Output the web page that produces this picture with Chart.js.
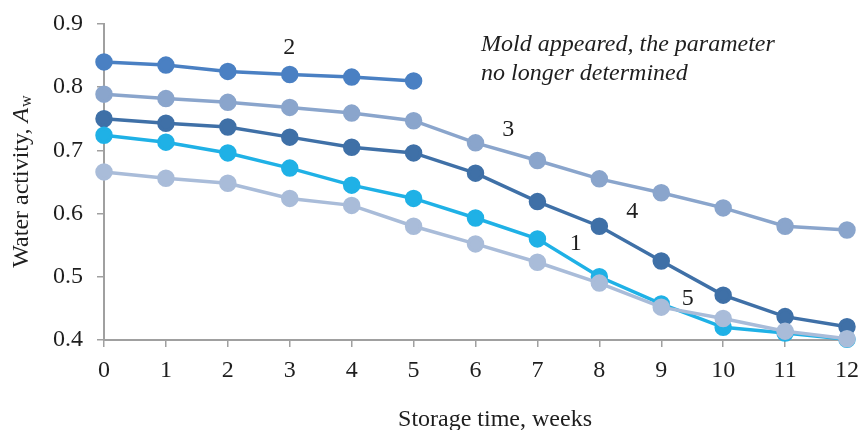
<!DOCTYPE html>
<html>
<head>
<meta charset="utf-8">
<script src="https://cdn.jsdelivr.net/npm/chart.js@4"></script>
<style>
  html, body { margin: 0; padding: 0; background: #fff; }
  #wrap { width: 861px; height: 430px; }
</style>
</head>
<body>
<div id="wrap"><canvas id="waterChart"></canvas></div>
<script>
// Storage weeks
const weeks = [0, 1, 2, 3, 4, 5, 6, 7, 8, 9, 10, 11, 12];

// Water activity per sample
const sample1 = [0.724, 0.713, 0.696, 0.672, 0.645, 0.624, 0.593, 0.560, 0.500, 0.457, 0.420, 0.411, 0.401];
const sample2 = [0.840, 0.835, 0.825, 0.820, 0.816, 0.810, null, null, null, null, null, null, null];
const sample3 = [0.789, 0.782, 0.776, 0.768, 0.759, 0.747, 0.712, 0.684, 0.655, 0.633, 0.609, 0.580, 0.574];
const sample4 = [0.750, 0.743, 0.737, 0.721, 0.705, 0.696, 0.664, 0.619, 0.580, 0.525, 0.471, 0.437, 0.421];
const sample5 = [0.666, 0.656, 0.648, 0.624, 0.613, 0.580, 0.552, 0.523, 0.490, 0.452, 0.434, 0.414, 0.402];

// Curve labels: [text, week, value]
const curveLabels = [
  ['2', 2.99, 0.862],
  ['3', 6.53, 0.732],
  ['4', 8.53, 0.603],
  ['1', 7.62, 0.553],
  ['5', 9.43, 0.466]
];
const noteLines = ['Mold appeared, the parameter', 'no longer determined'];

const serif = "'Liberation Serif', 'DejaVu Serif', serif";
const ink = '#1e1e1e';

function series(data, color) {
  return {
    data: data,
    borderColor: color,
    backgroundColor: color,
    pointBackgroundColor: color,
    pointBorderColor: color,
    pointRadius: 7,
    pointHoverRadius: 7,
    borderWidth: 3.5,
    tension: 0,
    spanGaps: false,
    clip: false
  };
}

// Draw the curve numbers, the note and both axis titles (y title has italic A, subscript w)
const textPlugin = {
  id: 'textPlugin',
  afterDraw(chart) {
    const ctx = chart.ctx;
    const xs = chart.scales.x, ys = chart.scales.y;
    ctx.save();
    ctx.fillStyle = ink;
    ctx.textBaseline = 'middle';
    ctx.textAlign = 'center';
    ctx.font = '24px ' + serif;
    curveLabels.forEach(l => {
      ctx.fillText(l[0], xs.getPixelForValue(l[1]), ys.getPixelForValue(l[2]));
    });

    // x axis title
    ctx.fillText('Storage time, weeks', 495, 420);

    ctx.textAlign = 'left';
    ctx.font = 'italic 24px ' + serif;
    const nx = xs.getPixelForValue(6.09);
    ctx.fillText(noteLines[0], nx, ys.getPixelForValue(0.867));
    ctx.fillText(noteLines[1], nx, ys.getPixelForValue(0.821));

    // y axis title
    ctx.translate(22, 182);
    ctx.rotate(-Math.PI / 2);
    const t1 = 'Water activity, ';
    ctx.font = 'italic 24px ' + serif;
    const wA = ctx.measureText('A').width;
    ctx.font = '16px ' + serif;
    const ww = ctx.measureText('w').width;
    ctx.font = '24px ' + serif;
    const w1 = ctx.measureText(t1).width;
    const x0 = -(w1 + wA + ww) / 2;
    ctx.fillText(t1, x0, 0);
    ctx.font = 'italic 24px ' + serif;
    ctx.fillText('A', x0 + w1, 0);
    ctx.font = '16px ' + serif;
    ctx.fillText('w', x0 + w1 + wA + 1, 5);
    ctx.restore();
  }
};

const ctx = document.getElementById('waterChart').getContext('2d');
const waterChart = new Chart(ctx, {
  type: 'line',
  data: {
    labels: weeks,
    datasets: [
      series(sample5, '#a9bcd9'),
      series(sample1, '#1fb1e6'),
      series(sample4, '#3f70a7'),
      series(sample3, '#8aa5cc'),
      series(sample2, '#4a80c3')
    ]
  },
  options: {
    responsive: true,
    maintainAspectRatio: false,
    animation: false,
    layout: { padding: { top: 24, right: 14, bottom: 0, left: 0 } },
    plugins: {
      legend: { display: false },
      tooltip: { enabled: false }
    },
    scales: {
      x: {
        type: 'linear',
        min: 0,
        max: 12,
        afterFit: s => {
          s.height = 90;
          s.paddingLeft = 0;
          s.paddingRight = 0;
        },
        grid: {
          display: true,
          drawOnChartArea: false,
          drawTicks: true,
          tickLength: 7,
          color: '#a0a0a0',
          lineWidth: 1.5
        },
        border: { color: '#a0a0a0', width: 2 },
        ticks: {
          stepSize: 1,
          padding: 9,
          color: ink,
          font: { family: serif, size: 24 }
        }
      },
      y: {
        min: 0.4,
        max: 0.9,
        afterFit: s => {
          s.width = 104;
          s.paddingTop = 0;
          s.paddingBottom = 0;
        },
        grid: {
          display: true,
          drawOnChartArea: false,
          drawTicks: true,
          tickLength: 7,
          color: '#a0a0a0',
          lineWidth: 1.5
        },
        border: { color: '#a0a0a0', width: 2 },
        ticks: {
          stepSize: 0.1,
          padding: 14,
          color: ink,
          font: { family: serif, size: 24 },
          callback: v => v.toFixed(1)
        }
      }
    }
  },
  plugins: [textPlugin]
});
</script>
</body>
</html>
